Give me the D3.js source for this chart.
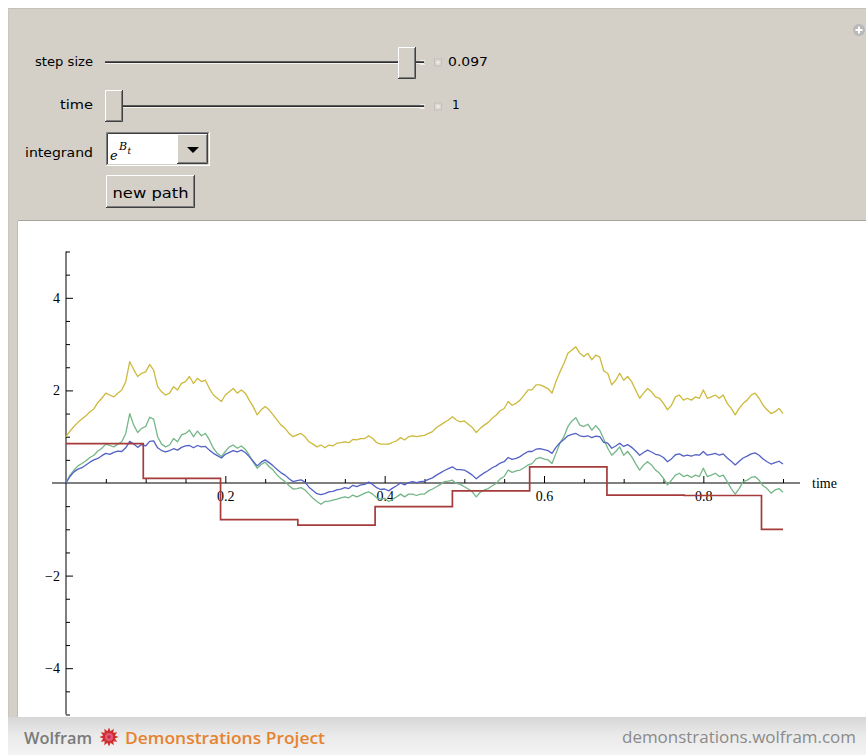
<!DOCTYPE html>
<html>
<head>
<meta charset="utf-8">
<script src="https://cdn.jsdelivr.net/npm/d3@7"></script>
<style>
  html, body { margin: 0; padding: 0; background: #ffffff; }
  svg { display: block; }
</style>
</head>
<body>
<svg id="chart" width="866" height="755"></svg>
<script>
// Sample spacing of the simulated path (time units)
const dt = 0.005;

// e^{B_t} sampled every dt from t = 0 to t = 0.9
const expB = [
  1.00,1.12,1.22,1.31,1.38,1.45,1.54,1.60,1.74,1.83,
  1.94,1.90,1.86,1.94,2.01,2.19,2.62,2.45,2.30,2.37,
  2.40,2.56,2.44,2.08,1.97,1.90,1.94,2.08,2.01,2.15,
  2.19,2.30,2.15,2.26,2.19,2.22,2.04,1.90,1.83,1.76,
  1.90,1.97,2.04,1.94,2.01,1.94,1.79,1.65,1.47,1.58,
  1.65,1.58,1.47,1.36,1.25,1.18,1.07,1.00,1.04,1.07,
  1.00,0.89,0.84,0.78,0.82,0.76,0.82,0.80,0.86,0.87,
  0.89,0.87,0.94,0.93,0.96,0.96,1.02,0.96,0.87,0.84,
  0.84,0.84,0.88,0.91,0.98,0.93,1.00,1.02,1.00,1.02,
  1.03,1.07,1.11,1.20,1.25,1.31,1.36,1.43,1.36,1.32,
  1.34,1.27,1.20,1.09,1.18,1.25,1.31,1.40,1.47,1.56,
  1.61,1.76,1.68,1.72,1.79,1.90,2.01,2.01,2.12,2.12,
  2.08,2.04,1.94,2.19,2.40,2.58,2.80,2.87,2.94,2.80,
  2.73,2.80,2.66,2.76,2.72,2.42,2.37,2.12,2.22,2.37,
  2.22,2.30,2.19,2.01,1.83,1.94,2.04,1.97,1.86,1.83,
  1.72,1.58,1.68,1.86,1.90,1.79,1.83,1.79,1.86,1.83,
  2.01,1.83,1.86,1.90,1.83,1.90,1.72,1.61,1.47,1.61,
  1.72,1.79,1.90,1.94,1.83,1.68,1.58,1.50,1.54,1.61,
  1.50
];

// Brownian path B_t
const brownian = [
  0.00,0.14,0.24,0.30,0.33,0.39,0.45,0.50,0.53,0.59,
  0.64,0.62,0.66,0.69,0.68,0.76,0.90,0.84,0.77,0.83,
  0.80,0.90,0.91,0.76,0.70,0.67,0.70,0.74,0.71,0.77,
  0.80,0.81,0.76,0.81,0.78,0.79,0.71,0.64,0.59,0.54,
  0.62,0.66,0.70,0.67,0.71,0.66,0.57,0.47,0.37,0.45,
  0.50,0.44,0.37,0.29,0.22,0.17,0.09,0.03,0.05,0.07,
  0.02,-0.09,-0.16,-0.23,-0.25,-0.23,-0.19,-0.18,-0.15,-0.13,
  -0.10,-0.12,-0.05,-0.08,-0.04,-0.03,0.02,-0.03,-0.10,-0.14,
  -0.13,-0.17,-0.11,-0.06,0.00,-0.04,0.01,0.03,0.01,0.03,
  0.04,0.08,0.11,0.17,0.22,0.27,0.31,0.35,0.29,0.29,
  0.28,0.23,0.17,0.09,0.16,0.22,0.27,0.33,0.37,0.43,
  0.46,0.55,0.51,0.53,0.57,0.63,0.68,0.68,0.73,0.74,
  0.72,0.70,0.64,0.77,0.87,0.94,1.02,1.05,1.07,1.02,
  1.00,1.02,0.98,1.01,1.00,0.88,0.86,0.75,0.80,0.86,
  0.79,0.83,0.77,0.69,0.60,0.66,0.71,0.67,0.62,0.60,
  0.55,0.46,0.52,0.61,0.63,0.58,0.60,0.58,0.61,0.60,
  0.68,0.60,0.62,0.64,0.60,0.63,0.54,0.47,0.39,0.47,
  0.54,0.58,0.63,0.65,0.60,0.52,0.46,0.41,0.44,0.47,
  0.41
];

// Itô integral of e^{B_s} dB_s
const itoIntegral = [
  0.00,0.17,0.28,0.37,0.42,0.48,0.55,0.60,0.69,0.75,
  0.84,0.81,0.78,0.84,0.89,1.07,1.50,1.25,1.09,1.18,
  1.22,1.42,1.38,1.00,0.84,0.78,0.82,0.96,0.89,1.04,
  1.07,1.14,1.00,1.12,1.02,1.07,0.93,0.75,0.64,0.57,
  0.68,0.78,0.82,0.75,0.80,0.73,0.60,0.45,0.32,0.40,
  0.45,0.35,0.28,0.17,0.09,0.03,-0.06,-0.13,-0.12,-0.10,
  -0.15,-0.24,-0.33,-0.40,-0.46,-0.40,-0.39,-0.37,-0.35,-0.32,
  -0.30,-0.32,-0.26,-0.30,-0.26,-0.22,-0.19,-0.24,-0.32,-0.35,
  -0.33,-0.40,-0.35,-0.30,-0.24,-0.30,-0.24,-0.24,-0.27,-0.24,
  -0.24,-0.17,-0.13,-0.08,-0.03,0.03,0.04,0.06,-0.01,-0.03,
  -0.08,-0.13,-0.19,-0.30,-0.20,-0.15,-0.12,-0.06,-0.01,0.09,
  0.14,0.28,0.23,0.26,0.28,0.33,0.39,0.42,0.52,0.55,
  0.52,0.50,0.42,0.64,0.86,1.00,1.22,1.34,1.41,1.25,
  1.22,1.27,1.14,1.24,1.14,0.95,0.75,0.60,0.68,0.78,
  0.60,0.68,0.57,0.42,0.28,0.39,0.46,0.39,0.28,0.21,
  0.10,-0.04,0.06,0.17,0.21,0.14,0.17,0.12,0.17,0.14,
  0.32,0.14,0.17,0.21,0.14,0.17,0.03,-0.12,-0.24,-0.12,
  0.03,0.06,0.12,0.14,0.06,-0.06,-0.12,-0.22,-0.15,-0.12,
  -0.20
];

// Step-function approximation on the coarse grid (step size 0.097)
const stepTimes  = [0, 0.097, 0.194, 0.291, 0.388, 0.485, 0.582, 0.679, 0.776, 0.873, 0.9];
const stepValues = [0.85, 0.10, -0.79, -0.91, -0.51, -0.17, 0.35, -0.26, -0.27, -1.00, -1.00];

// Axis ticks and labels
const xMajorTicks = [0.2, 0.4, 0.6, 0.8];
const xMinorTicks = [0.05, 0.1, 0.15, 0.25, 0.3, 0.35, 0.45, 0.5, 0.55, 0.65, 0.7, 0.75, 0.85, 0.9];
const yMajorTicks = [-4, -2, 2, 4];
const yMinorTicks = [-5, -4.5, -3.5, -3, -2.5, -1.5, -1, -0.5, 0.5, 1, 1.5, 2.5, 3, 3.5, 4.5, 5];
const xAxisLabel = "time";

// Control values
const stepSizeLabel = "0.097";
const timeLabel = "1";

const svg = d3.select("#chart");
const FACE = "#d4d0c8";

// ---------- frame ----------
svg.append("rect").attr("x", 8).attr("y", 8).attr("width", 858).attr("height", 710).attr("fill", FACE);
svg.append("line").attr("x1", 8).attr("x2", 866).attr("y1", 8.5).attr("y2", 8.5).attr("stroke", "#c4c1ba");
svg.append("line").attr("x1", 8.5).attr("x2", 8.5).attr("y1", 8).attr("y2", 718).attr("stroke", "#c9c6bf");
svg.append("rect").attr("x", 18).attr("y", 221).attr("width", 848).attr("height", 496).attr("fill", "#ffffff");
svg.append("line").attr("x1", 18).attr("x2", 866).attr("y1", 220.5).attr("y2", 220.5).attr("stroke", "#a7a49e");
svg.append("line").attr("x1", 17.5).attr("x2", 17.5).attr("y1", 221).attr("y2", 717).attr("stroke", "#bdbab4");

// top-right expand icon
const plus = svg.append("g").attr("transform", "translate(859,30)");
plus.append("circle").attr("r", 6).attr("fill", "#b9b9b9");
plus.append("path").attr("d", "M-3.5,0H3.5M0,-3.5V3.5").attr("stroke", "#ffffff").attr("stroke-width", 2);

// ---------- controls ----------
function bevel(x, y, w, h, raised) {
  const g = svg.append("g");
  g.append("rect").attr("x", x).attr("y", y).attr("width", w).attr("height", h).attr("fill", FACE);
  const light = raised ? "#ffffff" : "#808080";
  const dark = raised ? "#404040" : "#ffffff";
  const mid = raised ? "#808080" : "#404040";
  g.append("path").attr("d", `M${x + 0.5},${y + h}V${y + 0.5}H${x + w}`).attr("stroke", light).attr("fill", "none");
  g.append("path").attr("d", `M${x},${y + h - 0.5}H${x + w - 0.5}V${y}`).attr("stroke", dark).attr("fill", "none");
  g.append("path").attr("d", `M${x + 1},${y + h - 1.5}H${x + w - 1.5}V${y + 1}`).attr("stroke", mid).attr("fill", "none");
  return g;
}

const uiFont = "'DejaVu Sans', sans-serif";
function uiText(str, x, y, anchor, len, size) {
  const t = svg.append("text").attr("x", x).attr("y", y)
    .attr("text-anchor", anchor).attr("font-family", uiFont)
    .attr("font-size", size || 12).attr("fill", "#000").text(str);
  if (len) t.attr("textLength", len).attr("lengthAdjust", "spacingAndGlyphs");
  return t;
}

function sliderTrack(y, x0, x1) {
  svg.append("line").attr("x1", x0).attr("x2", x1).attr("y1", y - 0.5).attr("y2", y - 0.5).attr("stroke", "#5a5a5a").attr("stroke-width", 1);
  svg.append("line").attr("x1", x0).attr("x2", x1).attr("y1", y + 0.5).attr("y2", y + 0.5).attr("stroke", "#2e2e2e").attr("stroke-width", 1);
  svg.append("line").attr("x1", x0).attr("x2", x1).attr("y1", y + 1.5).attr("y2", y + 1.5).attr("stroke", "#f4f3ef").attr("stroke-width", 1);
  // small step marks and the increment button after the track
  svg.append("path").attr("d", `M${x1 - 4},${y - 1.5}H${x1 + 1}M${x1 - 4},${y + 2.5}H${x1 + 1}`).attr("stroke", "#eeeeee");
  const b = svg.append("g").attr("transform", `translate(438,${y + 0.5})`);
  b.append("rect").attr("x", -3.5).attr("y", -3.5).attr("width", 7).attr("height", 7).attr("fill", "#dad7d0").attr("stroke", "#c3c0b9");
  b.append("path").attr("d", "M-2,0H2M0,-2V2").attr("stroke", "#eeeeee");
}

// step size slider
uiText("step size", 93, 66, "end", 58);
sliderTrack(62, 105, 424);
bevel(398, 47, 18, 32, true);
uiText(stepSizeLabel, 448, 66, "start", 40);

// time slider
uiText("time", 93, 109, "end", 33);
sliderTrack(106, 123, 424);
bevel(105, 90, 18, 32, true);
uiText(timeLabel, 452, 109, "start");

// integrand popup menu
uiText("integrand", 93, 157, "end", 68);
svg.append("rect").attr("x", 106).attr("y", 132).attr("width", 104).attr("height", 34).attr("fill", "#ffffff");
svg.append("path").attr("d", "M106.5,166V132.5H210").attr("stroke", "#808080").attr("fill", "none");
svg.append("path").attr("d", "M107.5,165V133.5H209").attr("stroke", "#404040").attr("fill", "none");
svg.append("path").attr("d", "M106,165.5H209.5V132").attr("stroke", "#ffffff").attr("fill", "none");
svg.append("path").attr("d", "M107,164.5H208.5V133").attr("stroke", FACE).attr("fill", "none");
bevel(177, 134, 31, 30, true);
svg.append("path").attr("d", "M187,147H199L193,153Z").attr("fill", "#000");
const expr = svg.append("text").attr("x", 110).attr("y", 160)
  .attr("font-family", "'DejaVu Serif', serif").attr("font-style", "italic").attr("font-size", 13).attr("fill", "#000");
expr.append("tspan").text("e");
expr.append("tspan").attr("x", 119).attr("y", 150).attr("font-size", 11).text("B");
expr.append("tspan").attr("x", 127.5).attr("y", 154).attr("font-size", 9).text("t");

// new path button
bevel(106, 175, 89, 33, true);
uiText("new path", 150.5, 198, "middle", 76, 14);

// ---------- plot ----------
const x = d3.scaleLinear().domain([0, 0.9]).range([66, 783]);
const y = d3.scaleLinear().domain([-5, 5]).range([714.5, 251.5]);
const times = expB.map((_, i) => i * dt);

const plot = svg.append("g");
const tickFont = "'Liberation Serif', 'Times New Roman', serif";

// axis lines
plot.append("line").attr("x1", 52).attr("x2", 800).attr("y1", y(0)).attr("y2", y(0)).attr("stroke", "#000");
plot.append("line").attr("x1", x(0)).attr("x2", x(0)).attr("y1", y(5)).attr("y2", y(-5)).attr("stroke", "#000");

function styleAxis(g) {
  g.select(".domain").remove();
  g.selectAll("line").attr("stroke", "#000");
  g.selectAll("text").attr("font-family", tickFont).attr("font-size", 14).attr("fill", "#000");
}

plot.append("g").attr("transform", `translate(0,${y(0)})`)
  .call(d3.axisBottom(x).tickValues(xMajorTicks).tickFormat(d3.format(".1f")).tickSizeInner(-7).tickSizeOuter(0).tickPadding(8))
  .call(styleAxis);
plot.append("g").attr("transform", `translate(0,${y(0)})`)
  .call(d3.axisBottom(x).tickValues(xMinorTicks).tickFormat("").tickSizeInner(-4).tickSizeOuter(0))
  .call(styleAxis);
plot.append("g").attr("transform", `translate(${x(0)},0)`)
  .call(d3.axisLeft(y).tickValues(yMajorTicks).tickFormat(d3.format("d")).tickSizeInner(-7).tickSizeOuter(0).tickPadding(6))
  .call(styleAxis);
plot.append("g").attr("transform", `translate(${x(0)},0)`)
  .call(d3.axisLeft(y).tickValues(yMinorTicks).tickFormat("").tickSizeInner(-4).tickSizeOuter(0))
  .call(styleAxis);

plot.append("text").attr("x", 812).attr("y", y(0) + 5)
  .attr("font-family", tickFont).attr("font-size", 14).attr("fill", "#000").text(xAxisLabel);

// curves
const line = d3.line().x((d, i) => x(times[i])).y(d => y(d));
plot.append("path").datum(expB).attr("d", line).attr("fill", "none").attr("stroke", "#cdb93c").attr("stroke-width", 1.3).attr("stroke-linejoin", "round");
plot.append("path").datum(itoIntegral).attr("d", line).attr("fill", "none").attr("stroke", "#74b687").attr("stroke-width", 1.3).attr("stroke-linejoin", "round");
plot.append("path").datum(brownian).attr("d", line).attr("fill", "none").attr("stroke", "#5262c6").attr("stroke-width", 1.3).attr("stroke-linejoin", "round");

const stepLine = d3.line().curve(d3.curveStepAfter).x((d, i) => x(stepTimes[i])).y(d => y(d));
plot.append("path").datum(stepValues).attr("d", stepLine).attr("fill", "none").attr("stroke", "#a53b3b").attr("stroke-width", 1.7);

// ---------- footer ----------
const defs = svg.append("defs");
const grad = defs.append("linearGradient").attr("id", "footGrad").attr("x1", 0).attr("x2", 0).attr("y1", 0).attr("y2", 1);
grad.append("stop").attr("offset", "0%").attr("stop-color", "#d6d6d6");
grad.append("stop").attr("offset", "45%").attr("stop-color", "#e9e9e9");
grad.append("stop").attr("offset", "100%").attr("stop-color", "#f4f4f4");
svg.append("rect").attr("x", 8).attr("y", 717).attr("width", 858).attr("height", 38).attr("fill", "url(#footGrad)");

const footFont = "'Open Sans', 'DejaVu Sans', sans-serif";
svg.append("text").attr("x", 24).attr("y", 744).attr("font-family", footFont).attr("font-size", 17).attr("font-weight", 600)
  .attr("fill", "#7a7a7a").attr("textLength", 68).attr("lengthAdjust", "spacingAndGlyphs").text("Wolfram");

// spiky logo
const spikes = d3.range(24).map(i => {
  const a = i * Math.PI / 12;
  const r = i % 2 === 0 ? 9.5 : 6;
  return [r * Math.sin(a), -r * Math.cos(a)];
});
const logo = svg.append("g").attr("transform", "translate(109,737)");
logo.append("path").attr("d", d3.line().curve(d3.curveLinearClosed)(spikes)).attr("fill", "#cf2d2a");
logo.append("circle").attr("r", 4).attr("fill", "#e35a78");
logo.append("circle").attr("r", 1.8).attr("fill", "#c72c4a");

svg.append("text").attr("x", 125).attr("y", 744).attr("font-family", footFont).attr("font-size", 17).attr("font-weight", 600)
  .attr("fill", "#e5832f").attr("textLength", 200).attr("lengthAdjust", "spacingAndGlyphs").text("Demonstrations Project");
svg.append("text").attr("x", 856).attr("y", 743).attr("text-anchor", "end").attr("font-family", footFont).attr("font-size", 16)
  .attr("fill", "#8a8a8a").attr("textLength", 234).attr("lengthAdjust", "spacingAndGlyphs").text("demonstrations.wolfram.com");
</script>
</body>
</html>
